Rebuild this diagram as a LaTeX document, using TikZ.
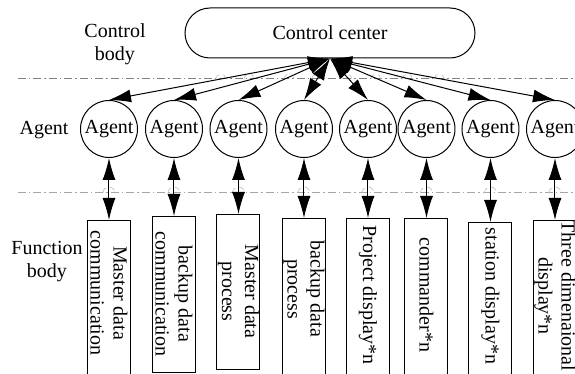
\documentclass[tikz,border=0pt]{standalone}
\usepackage{fontspec}
\setmainfont{Liberation Serif}
\usetikzlibrary{arrows.meta}

\tikzset{
  agent/.style={draw,circle,minimum size=28.5pt,inner sep=0pt},
  fbox/.style={draw,rectangle,minimum width=21.5pt,inner sep=0pt,anchor=north},
  ftext/.style={rotate=-90,align=center,inner sep=0pt},
  link/.style={{Latex[length=11pt,width=6.5pt]}-{Latex[length=11pt,width=6.5pt]}},
  sepline/.style={gray,dash pattern=on 4pt off 1.5pt on 0.75pt off 1.5pt},
  hop/.style={gray!50,densely dashed,line width=0.3pt}
}

\begin{document}
\begin{tikzpicture}[x=0.5pt,y=-0.5pt,line width=0.5pt,font=\fontsize{10}{11.5}\selectfont]
        % 画布
        \useasboundingbox (0,0) rectangle (575,374);
        \clip (0,0) rectangle (575,374);

        % 分层虚线
        \draw[sepline] (18,79) -- (575,79);
        \draw[sepline,gray!70] (18,193) -- (575,193);
        \draw[hop] (215.8,79) arc (180:360:5) (244,79) arc (180:360:5)
                   (284,79) arc (180:360:5) (311.6,79) arc (180:360:5)
                   (342,79) arc (180:360:5) (370.8,79) arc (180:360:5)
                   (402.5,79) arc (180:360:5) (434.3,79) arc (180:360:5);
        \draw[hop] (103,193) arc (180:360:6) (168,193) arc (180:360:6)
                   (232.5,193) arc (180:360:6) (298,193) arc (180:360:6)
                   (362,193) arc (180:360:6) (420.5,193) arc (180:360:6)
                   (484.5,193) arc (180:360:6) (549,193) arc (180:360:6);

        % 层名
        \node[align=center] (cbody) at (115,44) {Control\\body};
        \node (alab) at (44,130) {Agent};
        \node[align=center] (fbody) at (47,262) {Function\\body};

        % 控制中心
        \node[draw,rounded corners=12.5pt,minimum width=145pt,minimum height=25pt] (cc) at (330,33) {Control center};

        % Agent
        \node[agent] (a1) at (109,129) {Agent};
        \node[agent] (a2) at (174,129) {Agent};
        \node[agent] (a3) at (238.5,129) {Agent};
        \node[agent] (a4) at (304,129) {Agent};
        \node[agent] (a5) at (368,129) {Agent};
        \node[agent] (a6) at (426.5,129) {Agent};
        \node[agent] (a7) at (490.5,129) {Agent};
        \node[agent] (a8) at (555,129) {Agent};

        % 功能体
        \node[fbox,minimum height=85pt] (f1) at (109,220) {};
        \node[fbox,minimum height=78pt] (f2) at (174,216) {};
        \node[fbox,minimum height=77.5pt] (f3) at (238.5,214) {};
        \node[fbox,minimum height=85pt] (f4) at (304,218) {};
        \node[fbox,minimum height=85pt] (f5) at (368,218) {};
        \node[fbox,minimum height=85pt] (f6) at (426.5,218) {};
        \node[fbox,minimum height=85pt] (f7) at (490.5,222) {};
        \node[fbox,minimum height=85pt] (f8) at (555,220) {};
        \node[ftext] (t1) at (109,293) {Master data\\communication};
        \node[ftext] (t2) at (174,294) {backup data\\communication};
        \node[ftext] (t3) at (238.5,291.5) {Master data\\process};
        \node[ftext] (t4) at (304,289) {backup data\\process};
        \node[ftext] (t5) at (368,295) {Project display*n};
        \node[ftext] (t6) at (426.5,295) {commander*n};
        \node[ftext] (t7) at (490.5,296) {station display*n};
        \node[ftext] (t8) at (555,296) {Three dimenaional\\display*n};

        % 连线
        \draw[link] (cc.south) -- (a1.north);
        \draw[link] (cc.south) -- (a2.north);
        \draw[link] (cc.south) -- (a3.north);
        \draw[link] (cc.south) -- (a4.north);
        \draw[link] (cc.south) -- (a5.north);
        \draw[link] (cc.south) -- (a6.north);
        \draw[link] (cc.south) -- (a7.north);
        \draw[link] (cc.south) -- (a8.north);
        \draw[link] (a1.south) -- (f1.north);
        \draw[link] (a2.south) -- (f2.north);
        \draw[link] (a3.south) -- (f3.north);
        \draw[link] (a4.south) -- (f4.north);
        \draw[link] (a5.south) -- (f5.north);
        \draw[link] (a6.south) -- (f6.north);
        \draw[link] (a7.south) -- (f7.north);
        \draw[link] (a8.south) -- (f8.north);
    \end{tikzpicture}
\end{document}
